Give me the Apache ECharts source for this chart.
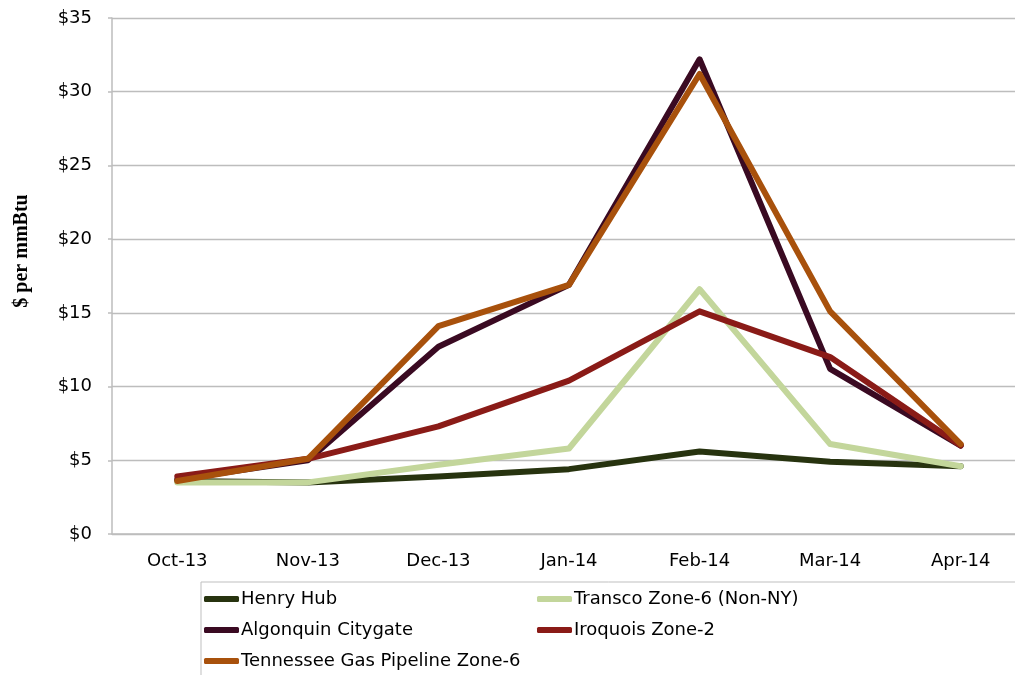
<!DOCTYPE html>
<html>
<head>
<meta charset="utf-8">
<script src="https://cdn.jsdelivr.net/npm/echarts@6/dist/echarts.min.js"></script>
<style>
  html, body { margin: 0; padding: 0; background: #fff; }
  #chart { width: 1015px; height: 675px; }
</style>
</head>
<body>
<div id="chart"></div>
<script>
const months = ["Oct-13", "Nov-13", "Dec-13", "Jan-14", "Feb-14", "Mar-14", "Apr-14"];
const henryHub = [3.6, 3.5, 3.9, 4.4, 5.6, 4.9, 4.6];
const transco = [3.5, 3.5, 4.7, 5.8, 16.6, 6.1, 4.6];
const algonquin = [3.7, 5.0, 12.7, 16.9, 32.2, 11.2, 6.0];
const iroquois = [3.9, 5.1, 7.3, 10.4, 15.1, 12.0, 6.0];
const tennessee = [3.6, 5.1, 14.1, 16.9, 31.2, 15.1, 6.1];

const font = "DejaVu Sans";

const makeLine = (name, data, color) => ({
  name: name,
  type: "line",
  data: data,
  symbol: "none",
  color: color,
  itemStyle: { color: color },
  lineStyle: { width: 6, color: color, cap: "round", join: "round" },
});

const renderChart = () => {
  var myChart = echarts.init(document.getElementById("chart"));
  var option = {
    animation: false,
    grid: {
      left: 112,
      width: 914,
      top: 18,
      height: 516,
      containLabel: false,
      outerBoundsMode: "none",
    },
    legend: {
      left: 201,
      top: 582,
      width: 700,
      padding: [6, 400, 40, 3],
      borderColor: "#bfbfbf",
      borderWidth: 1,
      icon: "roundRect",
      itemWidth: 35,
      itemHeight: 6,
      itemGap: 9,
      textStyle: {
        fontFamily: font,
        fontSize: 18,
        color: "#000",
        width: 287,
        lineHeight: 22,
        padding: [0, 0, 0, -3],
      },
    },
    xAxis: {
      type: "category",
      data: months,
      boundaryGap: true,
      axisLine: { lineStyle: { color: "#bdbdbd", width: 1.5 } },
      axisTick: { length: 6, lineStyle: { color: "#bdbdbd", width: 1.5 } },
      axisLabel: { fontFamily: font, fontSize: 18, color: "#000", margin: 18 },
    },
    yAxis: {
      type: "value",
      min: 0,
      max: 35,
      interval: 5,
      axisLine: { show: true, lineStyle: { color: "#bdbdbd", width: 1.5 } },
      axisTick: { show: true, length: 4, lineStyle: { color: "#bdbdbd", width: 1.5 } },
      splitLine: { lineStyle: { color: "#bdbdbd", width: 1.3 } },
      axisLabel: {
        fontFamily: font,
        fontSize: 18,
        color: "#000",
        margin: 20,
        formatter: (v) => "$" + v,
      },
    },
    graphic: [
      {
        type: "text",
        x: 22,
        y: 251,
        rotation: Math.PI / 2,
        style: {
          text: "$ per mmBtu",
          font: "bold 20px 'Liberation Serif'",
          fill: "#000",
          align: "center",
          verticalAlign: "middle",
        },
      },
    ],
    series: [
      makeLine("Henry Hub", henryHub, "#27330f"),
      makeLine("Transco Zone-6 (Non-NY)", transco, "#c3d69b"),
      makeLine("Algonquin Citygate", algonquin, "#3a0a22"),
      makeLine("Iroquois Zone-2", iroquois, "#8a1b17"),
      makeLine("Tennessee Gas Pipeline Zone-6", tennessee, "#a8510c"),
    ],
  };
  myChart.setOption(option);
};

document.addEventListener("DOMContentLoaded", renderChart);
</script>
</body>
</html>
